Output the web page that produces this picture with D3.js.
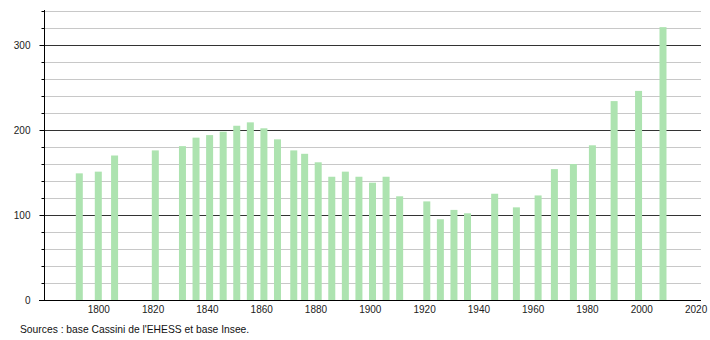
<!DOCTYPE html>
<html>
<head>
<meta charset="utf-8">
<script src="https://cdn.jsdelivr.net/npm/d3@7"></script>
<style>
	body { margin: 0; background: #fff; }
	svg { display: block; font-family: "Liberation Sans", Arial, sans-serif; }
	.tick-label { font-size: 10px; fill: #222; }
	.source { font-size: 10.3px; fill: #111; }
</style>
</head>
<body>
<svg width="710" height="340"></svg>
<script>
let years = [1793, 1800, 1806, 1821, 1831, 1836, 1841, 1846, 1851, 1856, 1861, 1866, 1872, 1876, 1881, 1886, 1891, 1896, 1901, 1906, 1911, 1921, 1926, 1931, 1936, 1946, 1954, 1962, 1968, 1975, 1982, 1990, 1999, 2008];
let population = [149, 151, 170, 176, 181, 191, 194, 198, 205, 209, 202, 189, 176, 172, 162, 145, 151, 145, 138, 145, 122, 116, 95, 106, 102, 125, 109, 123, 154, 160, 182, 234, 246, 321];
let xTicks = [1800, 1820, 1840, 1860, 1880, 1900, 1920, 1940, 1960, 1980, 2000, 2020];
let yMajor = [0, 100, 200, 300];
let yMinor = d3.range(20, 341, 20);
let sourceText = "Sources : base Cassini de l'EHESS et base Insee.";

let data = years.map(function(y, i) {
	return {year: y, value: population[i]};
});

let svg = d3.select("svg");
let plot = {left: 44, right: 701, top: 11, bottom: 300};

let xscale = d3.scaleLinear().domain([1780, 2022]).range([plot.left, plot.right]);
let yscale = d3.scaleLinear().domain([0, 340]).range([plot.bottom, plot.top]);

function yPix(d) {return Math.round(yscale(d)) + 0.5;}

//Gitternetz
let minorVals = yMinor.filter(function(v) {return v % 100 != 0;});
svg.append("g").selectAll("line")
	.data(minorVals)
	.enter().append("line")
		.attr("x1", plot.left).attr("x2", plot.right)
		.attr("y1", yPix).attr("y2", yPix)
		.attr("stroke", "#c8c8c8");
svg.append("g").selectAll("line")
	.data(yMajor.filter(function(v) {return v > 0;}))
	.enter().append("line")
		.attr("x1", plot.left).attr("x2", plot.right)
		.attr("y1", yPix).attr("y2", yPix)
		.attr("stroke", "#333");

//Balken
let barWidth = 7;
svg.append("g").selectAll("rect")
	.data(data)
	.enter().append("rect")
		.attr("x", function(d) {return xscale(d.year) - barWidth / 2;})
		.attr("y", function(d) {return yscale(d.value);})
		.attr("width", barWidth)
		.attr("height", function(d) {return yscale(0) - yscale(d.value);})
		.attr("fill", "#ade3b0");

//y-Achse
let yaxis = d3.axisLeft(yscale)
	.tickValues(yMajor)
	.tickSize(5)
	.tickPadding(9);
let gy = svg.append("g")
	.attr("transform", "translate(" + (plot.left + 0.5) + ",0)")
	.call(yaxis);
gy.select(".domain").remove();
gy.selectAll(".tick line").attr("stroke", "#000");
gy.selectAll(".tick text").attr("class", "tick-label");
gy.attr("font-family", null).attr("font-size", null);
gy.append("line")
	.attr("x1", 0).attr("x2", 0)
	.attr("y1", plot.top - 1).attr("y2", plot.bottom)
	.attr("stroke", "#000");
gy.selectAll(".minor")
	.data(minorVals)
	.enter().append("line")
		.attr("class", "minor")
		.attr("x1", -3).attr("x2", 0)
		.attr("y1", yPix).attr("y2", yPix)
		.attr("stroke", "#000");

//x-Achse
let xaxis = d3.axisBottom(xscale)
	.tickValues(xTicks)
	.tickFormat(d3.format("d"))
	.tickSize(0)
	.tickPadding(5);
let gx = svg.append("g")
	.attr("transform", "translate(0," + (plot.bottom + 0.5) + ")")
	.call(xaxis);
gx.select(".domain").remove();
gx.selectAll(".tick text").attr("class", "tick-label");
gx.attr("font-family", null).attr("font-size", null);
gx.append("line")
	.attr("x1", plot.left - 5).attr("x2", plot.right)
	.attr("y1", 0).attr("y2", 0)
	.attr("stroke", "#000");

//Quelle
svg.append("text")
	.attr("class", "source")
	.attr("x", 20)
	.attr("y", 333)
	.text(sourceText);
</script>
</body>
</html>
